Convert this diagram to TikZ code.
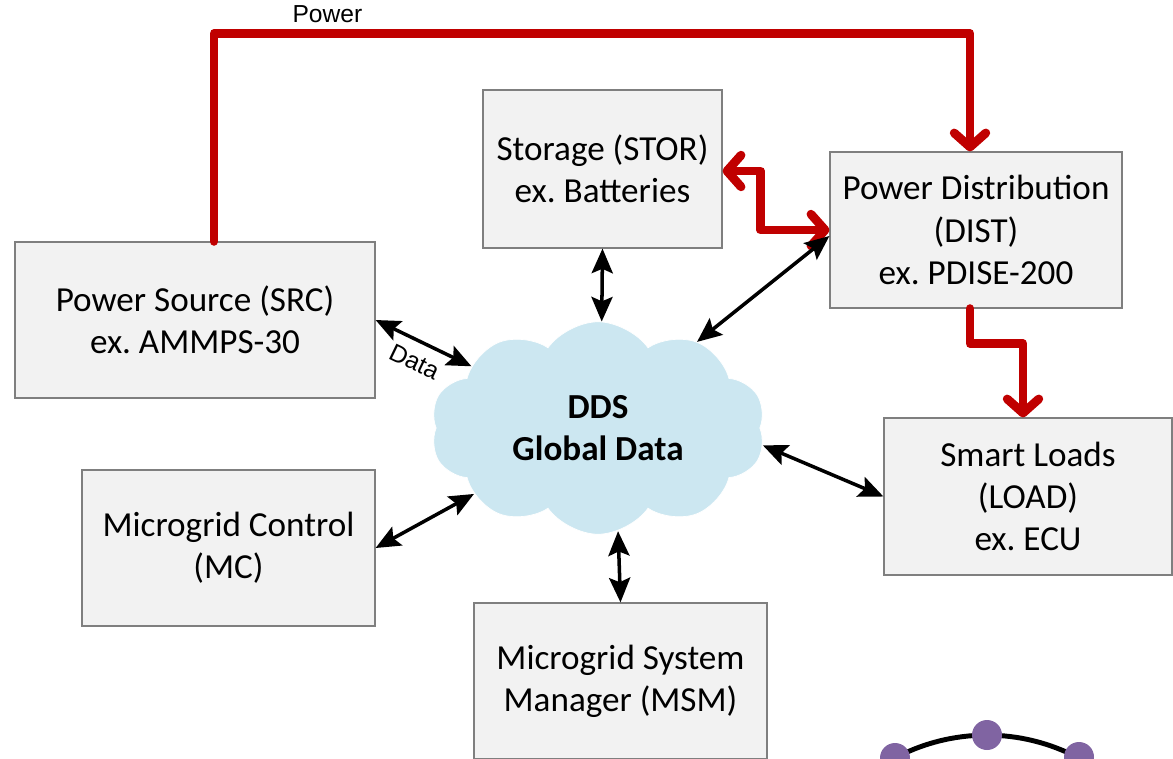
\documentclass[tikz,border=0pt]{standalone}
\usepackage{fontspec}
\setmainfont{Carlito}
\newfontfamily\arialfont{Liberation Sans}
\usetikzlibrary{shapes.symbols,arrows.meta}
\frenchspacing

\definecolor{pwrred}{HTML}{C00000}
\definecolor{boxgray}{HTML}{F2F2F2}
\definecolor{boxline}{HTML}{7F7F7F}
\definecolor{cloudblue}{HTML}{CCE7F1}
\definecolor{meshpurple}{HTML}{8064A2}

\tikzset{
  block/.style={draw=boxline, fill=boxgray, line width=0.7pt, align=center,
    minimum height=3.12cm, inner sep=2pt, font=\fontsize{20}{24}\selectfont},
  pwrtip/.tip={Straight Barb[length=8pt,width=18pt,round]},
  pwr/.style={draw=pwrred, line width=5pt, line join=round, line cap=round},
  datatip/.tip={Stealth[length=14pt,width=12pt,inset=2.5pt]},
  data/.style={datatip-datatip, line width=2pt},
  lbl/.style={font=\arialfont\fontsize{14}{16}\selectfont}
}

\begin{document}
\begin{tikzpicture}[x=0.02cm,y=-0.02cm]
  \clip (0,0) rectangle (1173,758);

  % boxes
  \node[block, minimum width=7.2cm]  (src)  at (195,320)   {Power Source (SRC)\\ex. AMMPS-30};
  \node[block, minimum width=4.78cm, minimum height=3.16cm] (stor) at (602.5,169) {Storage (STOR)\\ex. Batteries};
  \node[block, minimum width=5.84cm] (dist) at (976,230)   {Power Distribution\\(DIST)\\ex. PDISE-200};
  \node[block, minimum width=5.76cm, minimum height=3.14cm] (load) at (1028,496.5) {Smart Loads\\(LOAD)\\ex. ECU};
  \node[block, minimum width=5.86cm] (mc)   at (228.5,548) {Microgrid Control\\(MC)};
  \node[block, minimum width=5.86cm] (msm)  at (620.5,681) {Microgrid System\\Manager (MSM)};

  \node[cloud, cloud puffs=10, cloud puff arc=110, cloud ignores aspect,
        minimum width=6.7cm, minimum height=4.25cm, fill=cloudblue, draw=white,
        align=center, font=\fontsize{20}{24}\selectfont\bfseries] (dds) at (598,428) {DDS\\Global Data};

  % power flow
  \draw[pwr, -pwrtip] ([xshift=0.38cm]src.north) -- ++(0,-208)
    -| ([xshift=-0.12cm]dist.north) node[lbl, pos=0.075, above=0pt] (pw) {Power};
  \draw[pwr, pwrtip-pwrtip] ([yshift=-0.04cm]stor.east) -- ++(38,0) |- (dist.west);
  \draw[pwr, -pwrtip] ([xshift=-0.12cm]dist.south) -- ++(0,35) -| ([xshift=-0.1cm]load.north);

  % data links
  \draw[data] (src.east) -- (dds.154) node[lbl, midway, below=6pt, sloped, inner sep=0pt] (dl) {Data};
  \draw[data] (stor.south) -- (dds.88);
  \draw[data] ([yshift=-0.12cm]dist.west) -- (dds.41);
  \draw[data] (load.west) -- (dds.-6);
  \draw[data] (mc.east) -- (dds.208);
  \draw[data] (msm.north) -- (dds.-79);

  % mesh corner
  \draw[line width=2.8pt] (895,758) arc[start angle=-118, end angle=-62, radius=195.5];
  \foreach \p in {(895,758),(987,735),(1079,757)}
    \fill[meshpurple] \p circle[radius=15];
\end{tikzpicture}
\end{document}
